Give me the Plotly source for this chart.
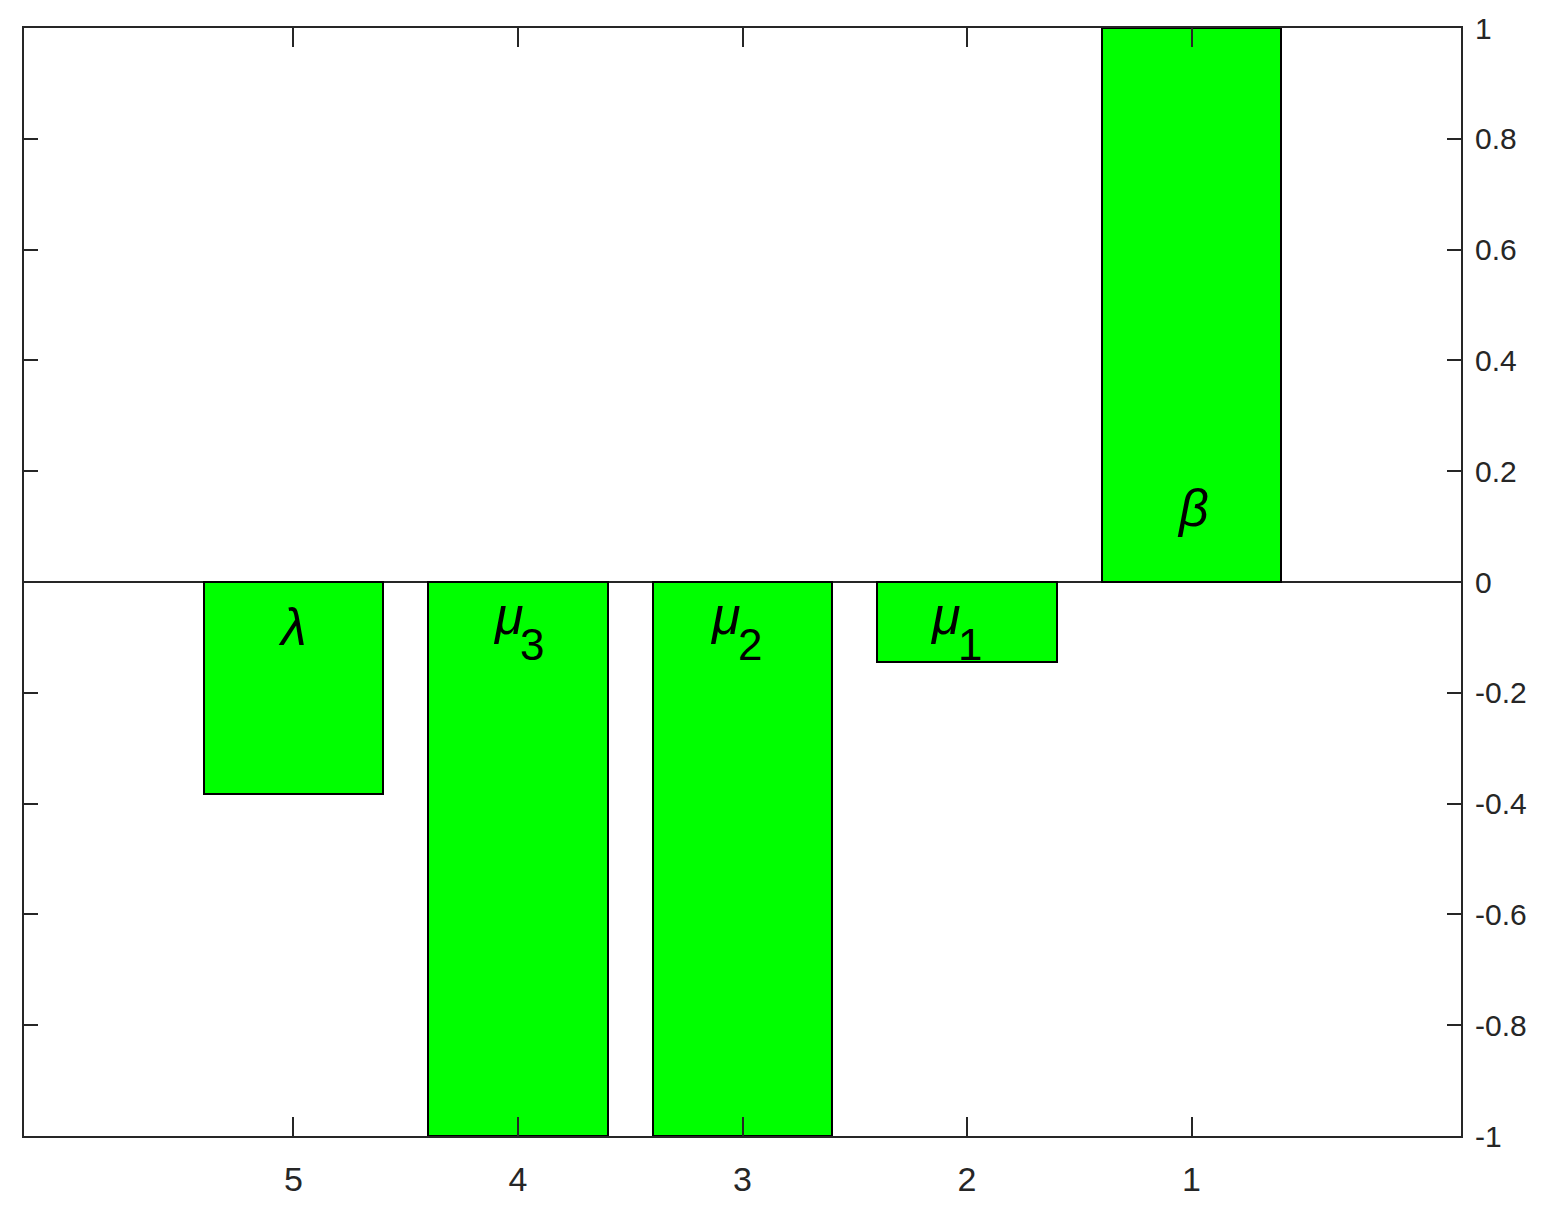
import plotly.graph_objects as go

# ---- Data ----
categories = [1, 2, 3, 4, 5]
values = [1.0, -0.145, -1.0, -1.0, -0.383]

# Labels drawn inside the bars: Greek symbol + optional subscript
label_symbol = ["β", "μ", "μ", "μ", "λ"]
label_sub = ["", "1", "2", "3", ""]

y_tickvals = [-1, -0.8, -0.6, -0.4, -0.2, 0, 0.2, 0.4, 0.6, 0.8, 1]
y_ticktext = ["-1", "-0.8", "-0.6", "-0.4", "-0.2", "0", "0.2", "0.4", "0.6", "0.8", "1"]
x_tickvals = [1, 2, 3, 4, 5]
x_ticktext = ["1", "2", "3", "4", "5"]

# ---- Label placement (layout, not data) ----
sym_y = [0.134, -0.061, -0.061, -0.061, -0.081]     # data y of symbol
sym_dx = [1, -22, -17, -9, -1]                      # pixel shift of symbol
sub_y = -0.112
sub_dx = [0, 3, 7, 14, 0]

FONT = "Liberation Sans, Arial, sans-serif"
AX = "#262626"

fig = go.Figure()
fig.add_trace(go.Bar(
    x=categories, y=values, width=0.8,
    marker=dict(color="#00ff00", line=dict(color="black", width=2)),
    showlegend=False, hoverinfo="skip",
))

for cx, sym, sub, sy, sdx, bdx in zip(categories, label_symbol, label_sub, sym_y, sym_dx, sub_dx):
    fig.add_annotation(x=cx, y=sy, text="<i>" + sym + "</i>", showarrow=False,
                       xshift=sdx, xanchor="center", yanchor="middle",
                       font=dict(family=FONT, size=52, color="black"))
    if sub:
        fig.add_annotation(x=cx, y=sub_y, text=sub, showarrow=False,
                           xshift=bdx, xanchor="center", yanchor="middle",
                           font=dict(family=FONT, size=44, color="black"))

# page body has an 8px margin: compensate so the figure fills the 1544x1214 window
fig.update_layout(
    width=1528, height=1198,
    margin=dict(l=16, r=75, t=20, b=70, autoexpand=False),
    paper_bgcolor="white", plot_bgcolor="white",
    font=dict(family=FONT, size=32, color=AX),
    bargap=0,
)
fig.update_xaxes(
    range=[6.2, -0.2], tickvals=x_tickvals, ticktext=x_ticktext,
    ticks="inside", ticklen=19, tickwidth=2, tickcolor=AX,
    showline=True, linecolor=AX, linewidth=2, mirror="ticks",
    showgrid=False, zeroline=False, ticklabelstandoff=12, automargin=False,
    tickfont=dict(family=FONT, size=34, color=AX),
)
fig.update_yaxes(
    range=[-1, 1], side="right", tickvals=y_tickvals, ticktext=y_ticktext,
    ticks="inside", ticklen=14, tickwidth=2, tickcolor=AX,
    showline=True, linecolor=AX, linewidth=2, mirror="ticks",
    showgrid=False, zeroline=True, zerolinecolor=AX, zerolinewidth=2,
    ticklabelstandoff=6, automargin=False,
    tickfont=dict(family=FONT, size=30, color=AX),
)

fig.write_html("out.html")
